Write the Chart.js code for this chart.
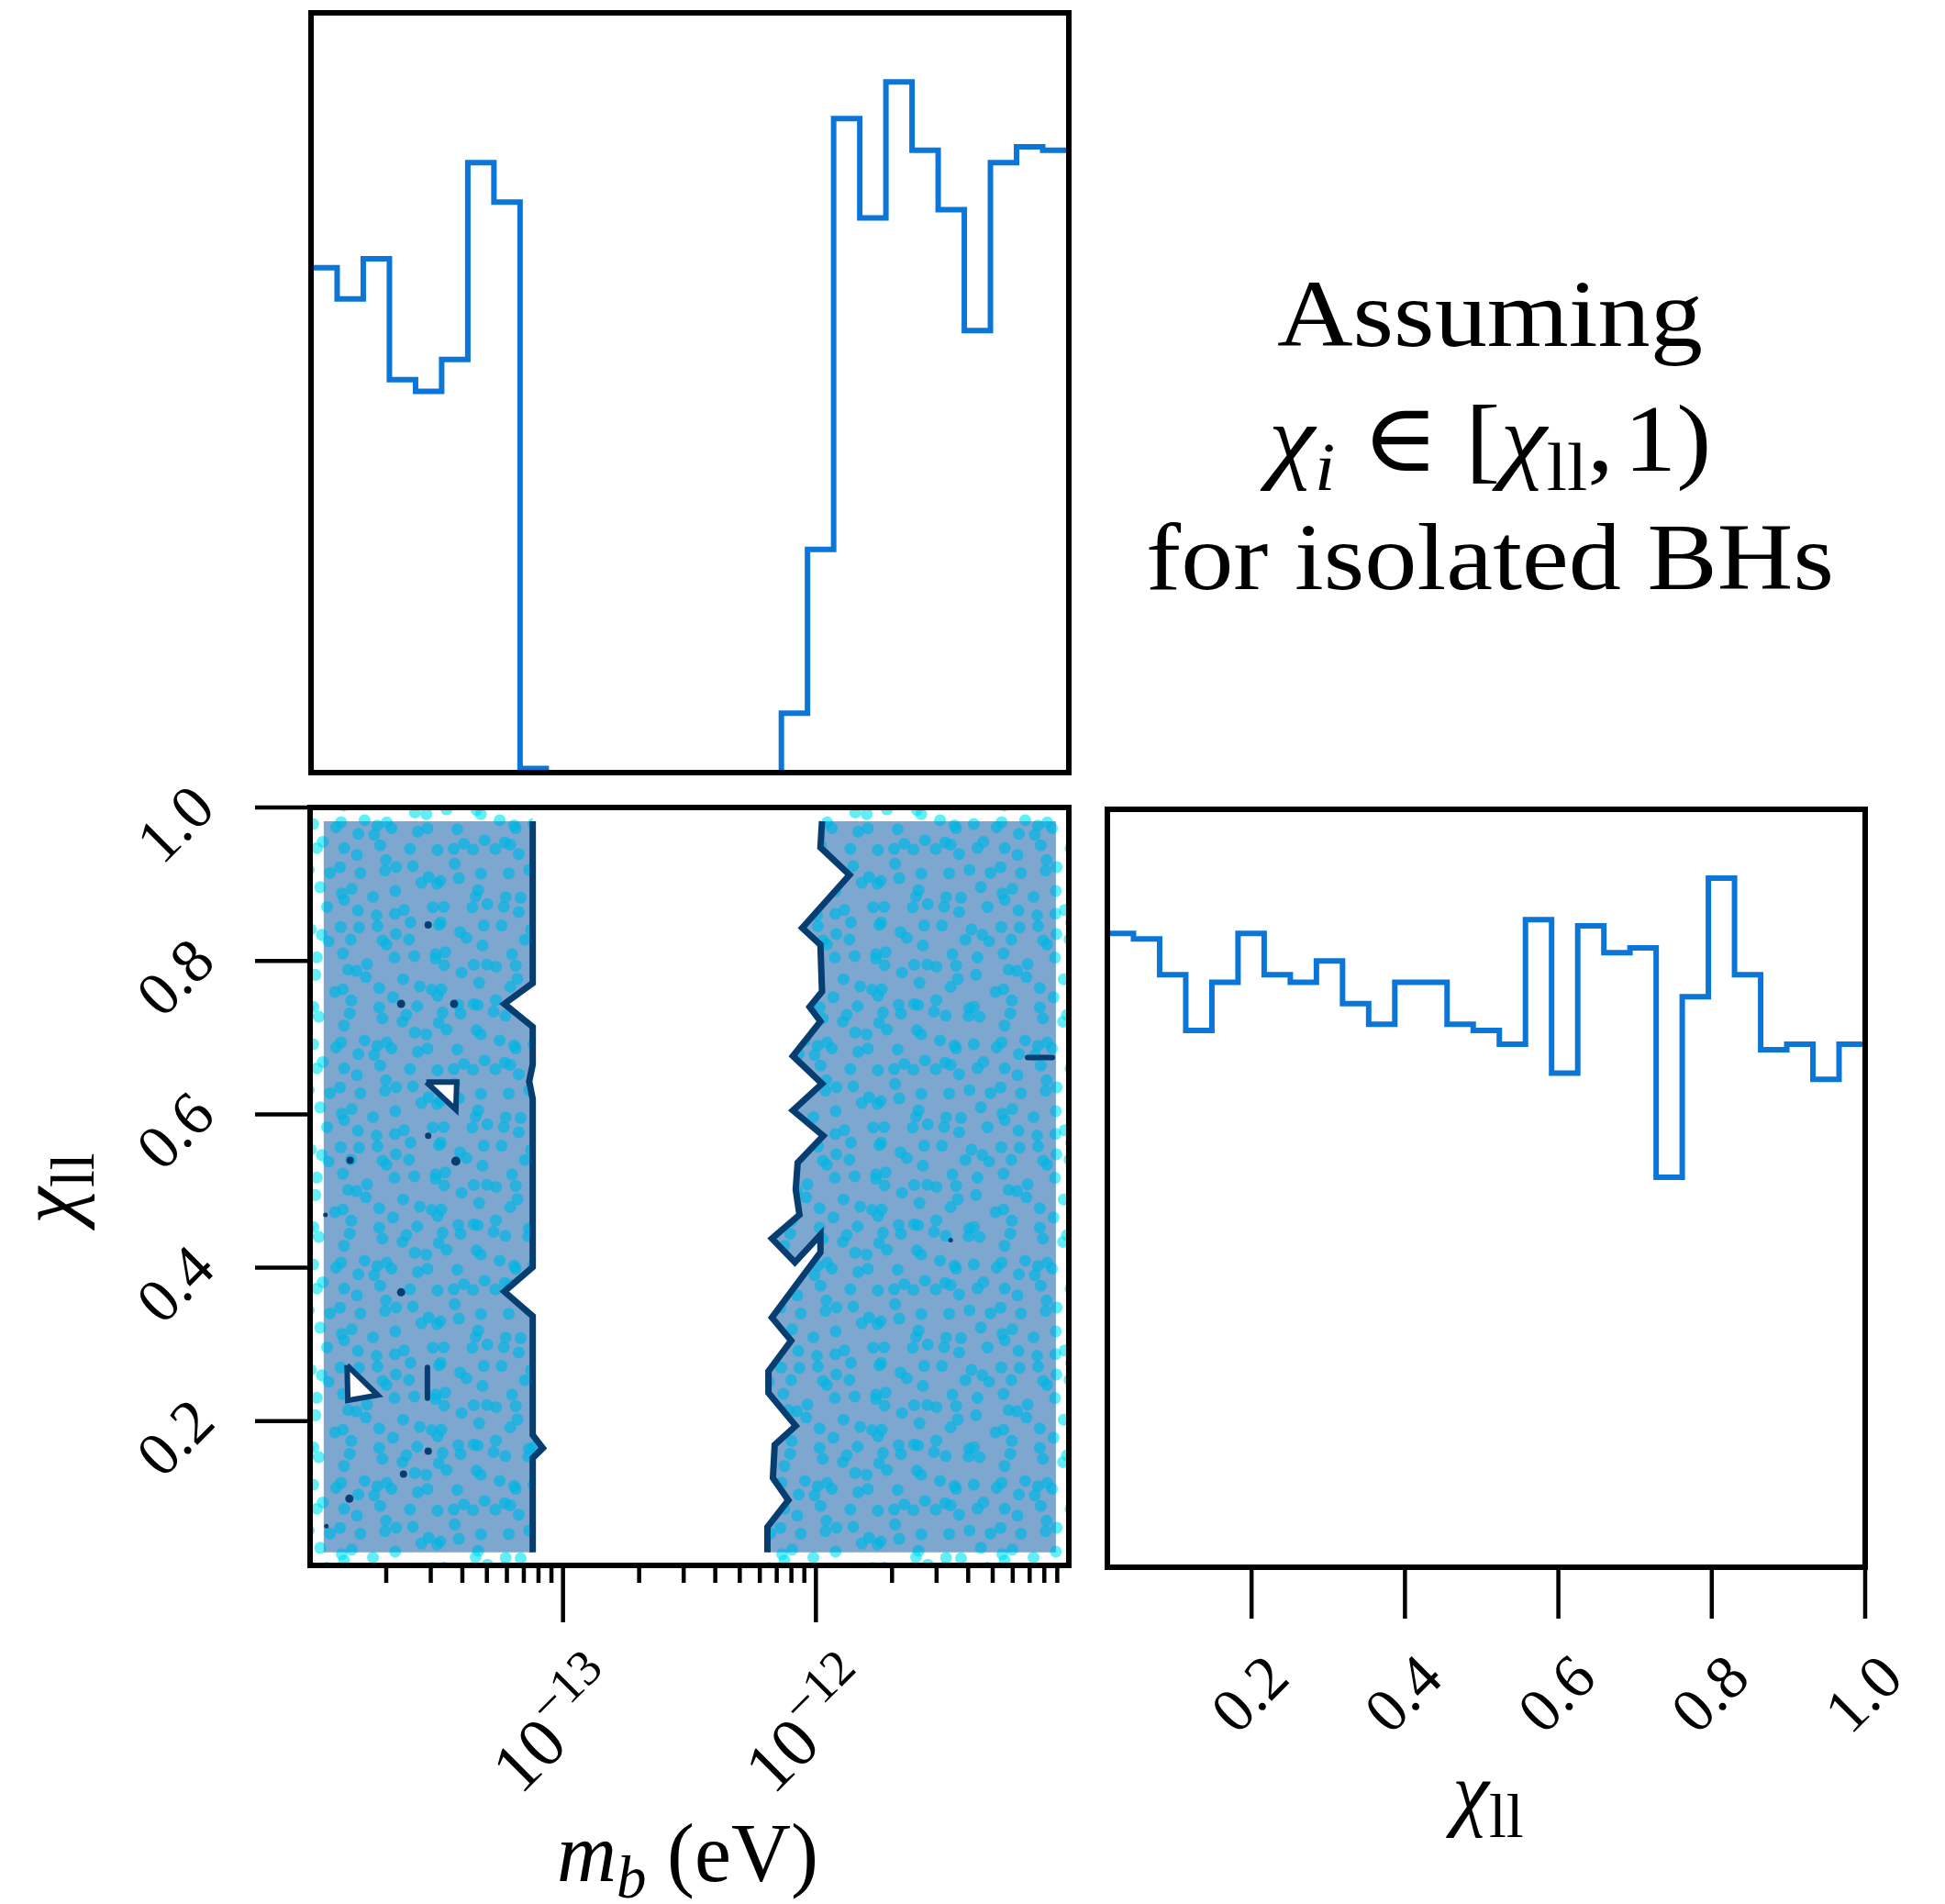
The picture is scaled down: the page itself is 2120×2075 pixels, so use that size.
<!DOCTYPE html>
<html>
<head>
<meta charset="utf-8">
<title>m_b – χ_ll posterior</title>
<script src="https://cdn.jsdelivr.net/npm/chart.js@4.4.1/dist/chart.umd.min.js"></script>
<style>
  html, body { margin: 0; padding: 0; background: #ffffff; }
  #figure { position: relative; width: 2120px; height: 2075px; overflow: hidden; background: #ffffff; }
  #figure canvas { position: absolute; left: 0; top: 0; }
</style>
</head>
<body>
<div id="figure">
  <canvas id="massHist" width="2120" height="2075"></canvas>
  <canvas id="joint" width="2120" height="2075"></canvas>
  <canvas id="chiHist" width="2120" height="2075"></canvas>
</div>
<script>
// ---------------- data ----------------
// axis limits
const massLimits = [1e-14, 1e-11];   // m_b in eV (log axis)
const chiLimits = [0.012, 1.0];      // χ_ll

// marginal histogram of m_b: 29 log-spaced bins spanning massLimits
const massBinCounts = [73.1, 68.6, 74.4, 56.9, 55.2, 59.8, 88.3, 82.6, 0.6,
                       0, 0, 0, 0, 0, 0, 0, 0, 0,
                       8.6, 32.3, 94.7, 80.3, 100.0, 90.1, 81.5, 64.0, 88.3, 90.6, 90.1];

// marginal histogram of χ_ll: 29 bins spanning chiLimits
const chiBinCounts = [92.0, 91.2, 86.0, 77.9, 84.9, 92.0, 86.0, 84.9, 88.0, 81.8,
                      78.8, 84.9, 84.9, 78.8, 77.9, 75.9, 94.0, 71.7, 93.1, 89.2,
                      89.9, 56.6, 82.8, 100.0, 86.0, 75.1, 75.9, 70.8, 75.9];

// ticks
const massMajorTicks = [1e-13, 1e-12];
const massMajorExponents = ['\u221213', '\u221212'];
const chiTicks = [0.2, 0.4, 0.6, 0.8, 1.0];
const chiTickLabels = ['0.2', '0.4', '0.6', '0.8', '1.0'];

// extent of the filled density grid
const bandMass = [1.132e-14, 8.89e-12];
const bandChi = [0.029, 0.982];

// outer contour of the light-mass band (its right edge, top to bottom)
const lowBandEdge = [
  [7.59e-14, 0.982], [7.59e-14, 0.771], [5.86e-14, 0.744], [7.59e-14, 0.714],
  [7.59e-14, 0.665], [7.35e-14, 0.643], [7.59e-14, 0.620], [7.59e-14, 0.401],
  [5.86e-14, 0.369], [7.59e-14, 0.337], [7.59e-14, 0.182], [8.32e-14, 0.165],
  [7.59e-14, 0.152], [7.59e-14, 0.029]
];

// outer contour of the heavy-mass band (its left edge, top to bottom)
const highBandEdge = [
  [1.057e-12, 0.982], [1.042e-12, 0.948], [1.358e-12, 0.912], [0.883e-12, 0.843],
  [1.042e-12, 0.821], [1.057e-12, 0.760], [0.944e-12, 0.740], [1.042e-12, 0.721],
  [0.811e-12, 0.676], [1.057e-12, 0.640], [0.811e-12, 0.605], [1.069e-12, 0.572],
  [0.847e-12, 0.537], [0.832e-12, 0.502], [0.861e-12, 0.469], [0.670e-12, 0.438],
  [0.826e-12, 0.407], [1.042e-12, 0.443], [1.042e-12, 0.420], [0.811e-12, 0.372],
  [0.670e-12, 0.335], [0.798e-12, 0.305], [0.649e-12, 0.265], [0.649e-12, 0.237],
  [0.832e-12, 0.194], [0.687e-12, 0.169], [0.676e-12, 0.126], [0.778e-12, 0.097],
  [0.643e-12, 0.062], [0.643e-12, 0.029]
];

// small closed contours inside the bands
const islandTriangles = [
  [[2.88e-14, 0.642], [3.80e-14, 0.642], [3.77e-14, 0.606]],
  [[1.40e-14, 0.273], [1.41e-14, 0.227], [1.85e-14, 0.234]]
];
const islandDashes = [
  [[2.91e-14, 0.270], [2.91e-14, 0.230]],
  [[6.87e-12, 0.674], [8.61e-12, 0.674]]
];
const islandDots = [
  [2.93e-14, 0.847], [2.29e-14, 0.744], [3.71e-14, 0.744], [2.93e-14, 0.572],
  [1.44e-14, 0.540], [3.77e-14, 0.539], [1.15e-14, 0.469], [2.29e-14, 0.368],
  [2.93e-14, 0.161], [2.34e-14, 0.131], [1.43e-14, 0.099], [1.16e-14, 0.063],
  [3.41e-12, 0.436]
];
const islandDotRadii = [4, 4.5, 4.5, 3.5, 4, 5, 2.5, 4.5, 4, 4, 4.5, 2.5, 2.5];

// side annotation
const noteLines = [
  [{t: 'Assuming'}],
  [{t: '\u03C7', it: true}, {t: 'i', it: true, sub: true}, {t: ' \u2208 '}, {t: '['},
   {t: '\u03C7', it: true}, {t: 'll', sub: true}, {t: ',', gap: 10}, {t: '1)'}],
  [{t: 'for isolated BHs'}]
];

// ---------------- styling ----------------
const SERIF = '"Liberation Serif", "DejaVu Serif", "Times New Roman", serif';
const HIST_BLUE = '#0b76d8';
const CONTOUR_NAVY = '#073e72';
const BAND_FILL = '#7ea7cf';

// ---------------- helpers ----------------
function logEdges(lo, hi, n) {
  const a = Math.log10(lo), b = Math.log10(hi);
  return Array.from({length: n + 1}, (_, i) => Math.pow(10, a + (b - a) * i / n));
}
function linEdges(lo, hi, n) {
  return Array.from({length: n + 1}, (_, i) => lo + (hi - lo) * i / n);
}
// one point per left bin edge plus the closing right edge
function stepPoints(edges, counts) {
  const pts = counts.map((c, i) => ({x: edges[i], y: c}));
  pts.push({x: edges[counts.length], y: counts[counts.length - 1]});
  return pts;
}
const toXY = arr => arr.map(([x, y]) => ({x, y}));

function runFont(p, size) {
  const s = (p.sub || p.sup) ? Math.round(size * (p.scale || 0.7)) : size;
  return (p.it ? 'italic ' : '') + s + 'px ' + SERIF;
}
function runWidth(ctx, run, size) {
  let w = 0;
  for (const p of run) { ctx.font = runFont(p, size); w += ctx.measureText(p.t).width + (p.gap || 0); }
  return w;
}
function drawRun(ctx, run, size, x, y) {
  for (const p of run) {
    ctx.font = runFont(p, size);
    const dy = p.sub ? size * 0.2 : (p.sup ? -size * 0.42 : 0);
    ctx.fillText(p.t, x, y + dy);
    x += ctx.measureText(p.t).width + (p.gap || 0);
  }
}
function drawRotatedRun(ctx, run, size, cx, cy, angle, baseOffset) {
  ctx.save();
  ctx.translate(cx, cy);
  ctx.rotate(angle);
  ctx.textBaseline = 'alphabetic';
  ctx.textAlign = 'left';
  const w = runWidth(ctx, run, size);
  drawRun(ctx, run, size, -w / 2, baseOffset);
  ctx.restore();
}
function segment(ctx, x0, y0, x1, y1) {
  ctx.beginPath(); ctx.moveTo(x0, y0); ctx.lineTo(x1, y1); ctx.stroke();
}

// speckle texture standing in for the scattered posterior samples
function speckle(ctx, background, dotColor, radius) {
  const size = 240, step = 20;
  const tile = document.createElement('canvas');
  tile.width = tile.height = size;
  const g = tile.getContext('2d');
  if (background) { g.fillStyle = background; g.fillRect(0, 0, size, size); }
  g.fillStyle = dotColor;
  const n = size / step;
  const frac = v => v - Math.floor(v);
  for (let i = 0; i < n; i++) {
    for (let j = 0; j < n; j++) {
      const hx = frac(Math.sin(i * 12.9898 + j * 78.233) * 43758.5453);
      const hy = frac(Math.sin(i * 39.3468 + j * 11.135) * 24634.6345);
      const cx = (i + hx) * step, cy = (j + hy) * step;
      for (const ox of [-size, 0, size]) {
        for (const oy of [-size, 0, size]) {
          g.beginPath(); g.arc(cx + ox, cy + oy, radius, 0, Math.PI * 2); g.fill();
        }
      }
    }
  }
  return ctx.createPattern(tile, 'repeat');
}

function baseOptions(padding, xScale, yScale) {
  return {
    responsive: false,
    animation: false,
    devicePixelRatio: 1,
    events: [],
    layout: { padding },
    scales: {
      x: Object.assign({display: false}, xScale),
      y: Object.assign({display: false}, yScale)
    },
    plugins: { legend: {display: false}, tooltip: {enabled: false}, title: {display: false} },
    elements: { point: {radius: 0}, line: {tension: 0} }
  };
}

const framePlugin = {
  id: 'panelFrame',
  afterDraw(chart) {
    const {ctx, chartArea: a} = chart;
    ctx.save();
    ctx.strokeStyle = '#000';
    ctx.lineWidth = 6;
    ctx.lineJoin = 'miter';
    ctx.strokeRect(a.left, a.top, a.right - a.left, a.bottom - a.top);
    ctx.restore();
  }
};

// ---------------- top panel: m_b marginal ----------------
const massEdges = logEdges(massLimits[0], massLimits[1], massBinCounts.length);

const notePlugin = {
  id: 'sideNote',
  afterDraw(chart) {
    const ctx = chart.ctx;
    const size = 104, baselines = [377, 513, 642];
    ctx.save();
    ctx.fillStyle = '#000';
    ctx.textBaseline = 'alphabetic';
    noteLines.forEach((run, k) => {
      ctx.save();
      ctx.translate(1624, baselines[k]);
      ctx.scale(1.1, 1);
      const w = runWidth(ctx, run, size);
      drawRun(ctx, run, size, -w / 2, 0);
      ctx.restore();
    });
    ctx.restore();
  }
};

new Chart(document.getElementById('massHist'), {
  type: 'line',
  data: {
    datasets: [{
      data: stepPoints(massEdges, massBinCounts),
      stepped: 'before',
      borderColor: HIST_BLUE,
      borderWidth: 6,
      borderJoinStyle: 'miter',
      fill: false,
      pointRadius: 0
    }]
  },
  options: baseOptions(
    {left: 339, top: 14, right: 955, bottom: 1233},
    {type: 'logarithmic', min: massLimits[0], max: massLimits[1]},
    {type: 'linear', min: 0, max: 1.1 * Math.max(...massBinCounts)}
  ),
  plugins: [framePlugin, notePlugin]
});

// ---------------- joint panel: m_b vs χ_ll ----------------
const jointCanvas = document.getElementById('joint');
const jctx = jointCanvas.getContext('2d');
const bandTexture = speckle(jctx, BAND_FILL, 'rgba(0, 182, 228, 0.68)', 6.5);
const marginTexture = speckle(jctx, null, 'rgba(0, 228, 242, 0.62)', 6.5);

const lastLow = lowBandEdge[lowBandEdge.length - 1];
const lastHigh = highBandEdge[highBandEdge.length - 1];

const lowFill = [[bandMass[0], bandChi[1]], ...lowBandEdge, [bandMass[0], bandChi[0]]];
const highFill = [...highBandEdge, [bandMass[1], bandChi[0]], [bandMass[1], bandChi[1]]];
const lowMargin = [[massLimits[0], chiLimits[1]], [lowBandEdge[0][0], chiLimits[1]], ...lowBandEdge,
                   [lastLow[0], chiLimits[0]], [massLimits[0], chiLimits[0]]];
const highMargin = [[highBandEdge[0][0], chiLimits[1]], ...highBandEdge, [lastHigh[0], chiLimits[0]],
                    [massLimits[1], chiLimits[0]], [massLimits[1], chiLimits[1]]];

const shape = (pts, bg, order) => ({
  data: toXY(pts), fill: 'shape', backgroundColor: bg,
  borderColor: 'rgba(0,0,0,0)', borderWidth: 1, pointRadius: 0, order
});
const contour = (pts, order) => ({
  data: toXY(pts), fill: false, borderColor: CONTOUR_NAVY, borderWidth: 7,
  borderJoinStyle: 'miter', borderCapStyle: 'butt', pointRadius: 0, order
});

const jointDatasets = [
  shape(lowMargin, marginTexture, 9),
  shape(highMargin, marginTexture, 9),
  shape(lowFill, bandTexture, 8),
  shape(highFill, bandTexture, 8),
  contour(lowBandEdge, 6),
  contour(highBandEdge, 6),
  ...islandTriangles.map(tri => ({
    data: toXY([...tri, tri[0]]), fill: 'shape', backgroundColor: '#ffffff',
    borderColor: CONTOUR_NAVY, borderWidth: 6, borderJoinStyle: 'miter', pointRadius: 0, order: 4
  })),
  ...islandDashes.map(d => ({
    data: toXY(d), fill: false, borderColor: CONTOUR_NAVY, borderWidth: 6,
    borderCapStyle: 'round', pointRadius: 0, order: 3
  })),
  {
    data: toXY(islandDots), showLine: false, fill: false,
    pointRadius: islandDotRadii, pointBackgroundColor: CONTOUR_NAVY,
    pointBorderWidth: 0, pointBorderColor: CONTOUR_NAVY, order: 2
  }
];

const jointAxesPlugin = {
  id: 'jointAxes',
  afterDraw(chart) {
    const {ctx, chartArea: a, scales: {x, y}} = chart;
    ctx.save();
    ctx.strokeStyle = '#000';
    ctx.fillStyle = '#000';
    ctx.lineCap = 'butt';
    ctx.lineWidth = 4.5;

    // χ_ll ticks on the left edge
    chiTicks.forEach((v, i) => {
      const py = y.getPixelForValue(v);
      segment(ctx, a.left - 60, py, a.left, py);
      drawRotatedRun(ctx, [{t: chiTickLabels[i]}], 68, 191, py + 18, -Math.PI / 4, 0.33 * 68);
    });

    // m_b minor ticks
    const e0 = Math.floor(Math.log10(massLimits[0]) + 1e-9);
    const e1 = Math.ceil(Math.log10(massLimits[1]) - 1e-9);
    for (let e = e0; e < e1; e++) {
      for (let m = 2; m <= 9; m++) {
        const v = m * Math.pow(10, e);
        if (v <= massLimits[0] || v >= massLimits[1]) continue;
        const px = x.getPixelForValue(v);
        segment(ctx, px, a.bottom, px, a.bottom + 19);
      }
    }
    // m_b decade ticks
    massMajorTicks.forEach((v, i) => {
      const px = x.getPixelForValue(v);
      segment(ctx, px, a.bottom, px, a.bottom + 62);
      drawRotatedRun(ctx, [{t: '10'}, {t: massMajorExponents[i], sup: true, scale: 0.72}], 76,
                     px - 13, 1876, -Math.PI / 4, 34);
    });

    // axis titles
    ctx.textBaseline = 'alphabetic';
    const xTitle = [{t: 'm', it: true}, {t: 'b', it: true, sub: true, scale: 0.72}, {t: ' (eV)'}];
    const wx = runWidth(ctx, xTitle, 90);
    drawRun(ctx, xTitle, 90, (a.left + a.right) / 2 - wx / 2 - 2, 2050);

    const yTitle = [{t: '\u03C7', it: true}, {t: 'll', sub: true, scale: 0.75}];
    ctx.save();
    ctx.translate(84, 1295);
    ctx.rotate(-Math.PI / 2);
    const wy = runWidth(ctx, yTitle, 90);
    drawRun(ctx, yTitle, 90, -wy / 2, 0);
    ctx.restore();

    ctx.restore();
  }
};

new Chart(jointCanvas, {
  type: 'line',
  data: { datasets: jointDatasets },
  options: baseOptions(
    {left: 338, top: 880, right: 955, bottom: 369},
    {type: 'logarithmic', min: massLimits[0], max: massLimits[1]},
    {type: 'linear', min: chiLimits[0], max: chiLimits[1]}
  ),
  plugins: [jointAxesPlugin, framePlugin]
});

// ---------------- right panel: χ_ll marginal ----------------
const chiEdges = linEdges(chiLimits[0], chiLimits[1], chiBinCounts.length);

const chiAxesPlugin = {
  id: 'chiAxes',
  afterDraw(chart) {
    const {ctx, chartArea: a, scales: {x}} = chart;
    ctx.save();
    ctx.strokeStyle = '#000';
    ctx.fillStyle = '#000';
    ctx.lineWidth = 4.5;
    chiTicks.forEach((v, i) => {
      const px = x.getPixelForValue(v);
      segment(ctx, px, a.bottom, px, a.bottom + 56);
      drawRotatedRun(ctx, [{t: chiTickLabels[i]}], 68, px - 2, 1846, -Math.PI / 4, 0.33 * 68);
    });
    const title = [{t: '\u03C7', it: true}, {t: 'll', sub: true, scale: 0.75}];
    const w = runWidth(ctx, title, 90);
    ctx.textBaseline = 'alphabetic';
    drawRun(ctx, title, 90, 1622 - w / 2, 1984);
    ctx.restore();
  }
};

new Chart(document.getElementById('chiHist'), {
  type: 'line',
  data: {
    datasets: [{
      data: stepPoints(chiEdges, chiBinCounts),
      stepped: 'before',
      borderColor: HIST_BLUE,
      borderWidth: 6,
      borderJoinStyle: 'miter',
      fill: false,
      pointRadius: 0
    }]
  },
  options: baseOptions(
    {left: 1207, top: 882, right: 87, bottom: 367},
    {type: 'linear', min: chiLimits[0], max: chiLimits[1]},
    {type: 'linear', min: 0, max: 1.1 * Math.max(...chiBinCounts)}
  ),
  plugins: [chiAxesPlugin, framePlugin]
});
</script>
</body>
</html>
